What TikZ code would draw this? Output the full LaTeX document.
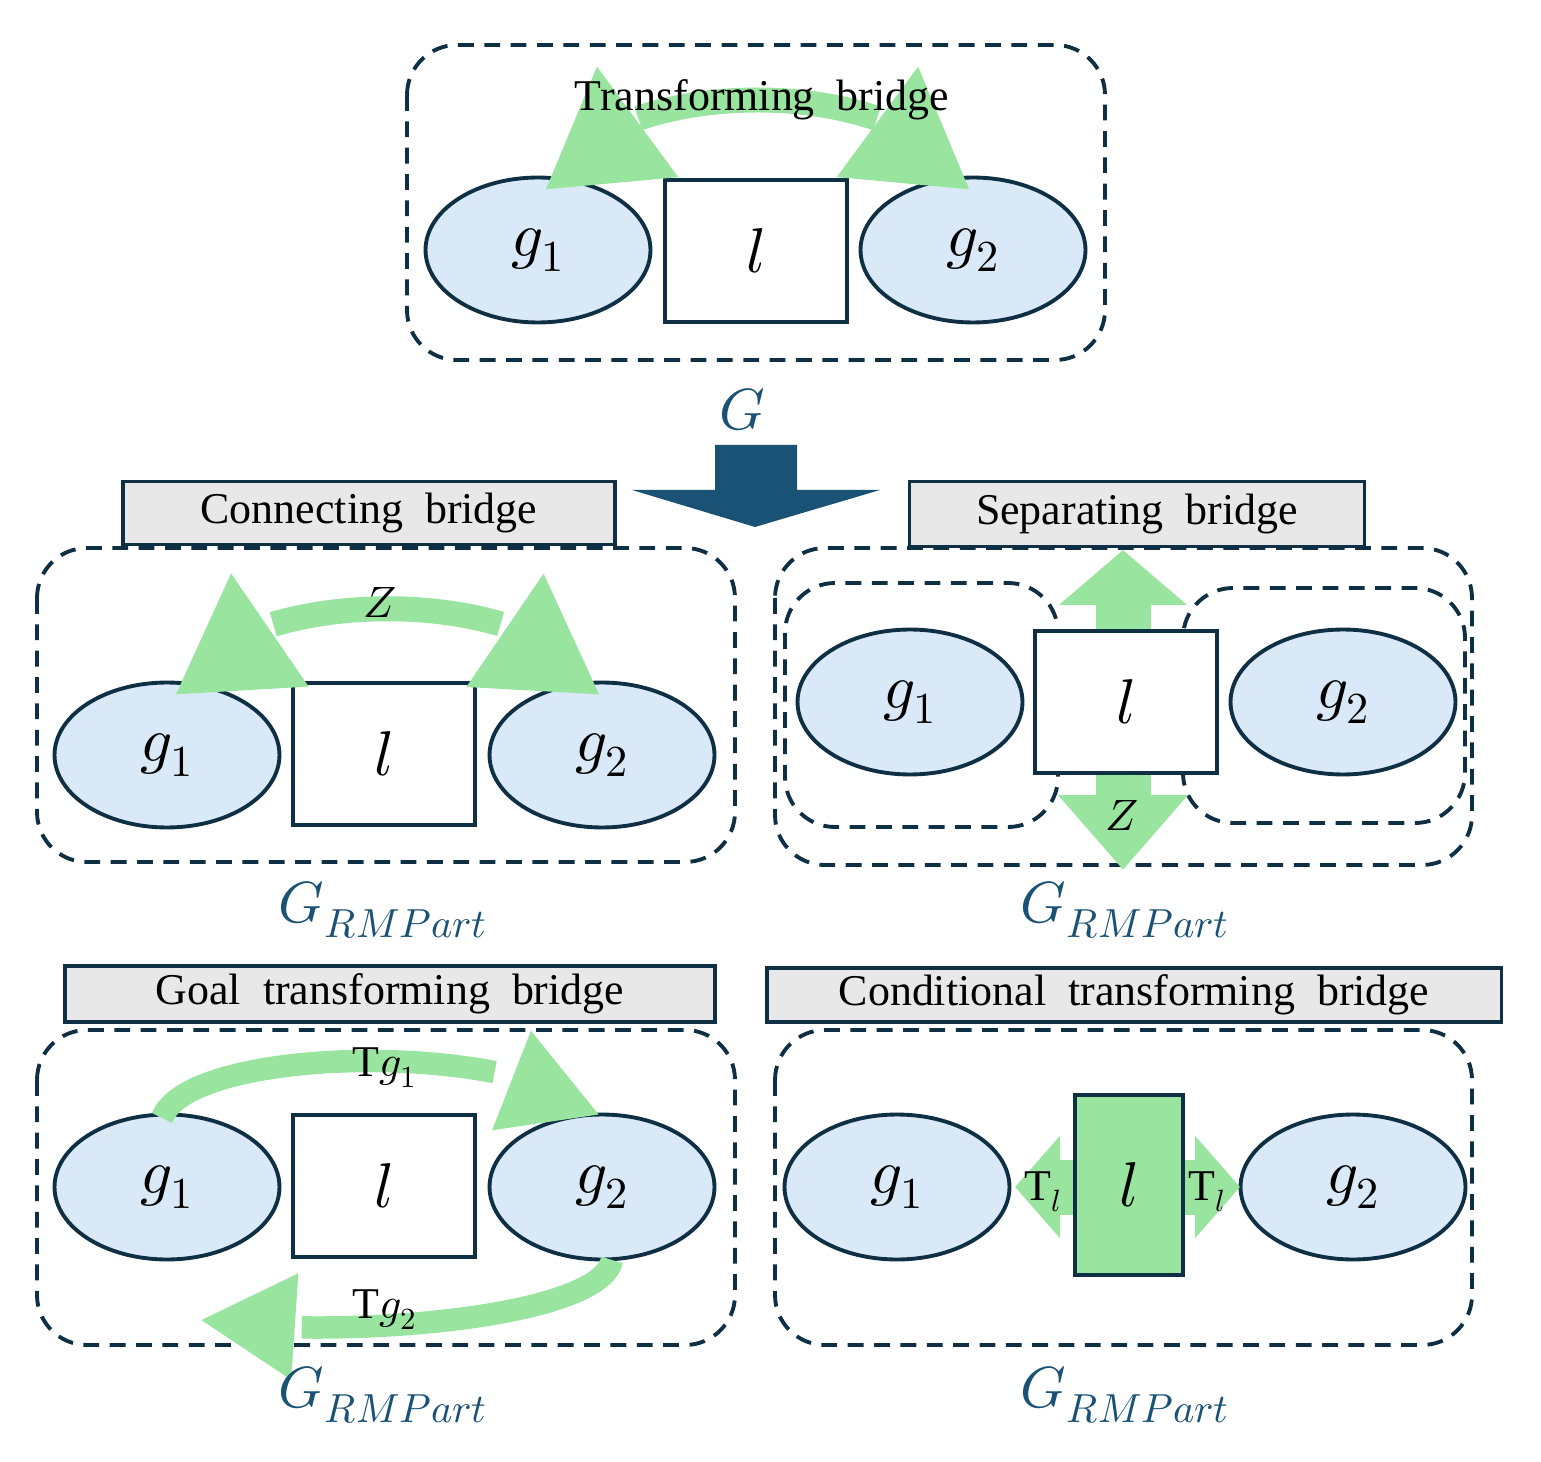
\documentclass[tikz,border=0pt]{standalone}
\usepackage{fontspec}
\usepackage{unicode-math}
\setmainfont{Liberation Serif}
\usetikzlibrary{arrows.meta,shapes.geometric,bending}
\definecolor{dk}{HTML}{0E2F44}
\definecolor{gblue}{HTML}{1A5276}
\definecolor{lb}{HTML}{DAE9F7}
\definecolor{gr}{HTML}{99E59F}
\definecolor{lg}{HTML}{E8E8E8}
\begin{document}
\begin{tikzpicture}[x=0.02cm,y=-0.02cm,
 panel/.style={draw=dk,line width=2.2pt,dash pattern=on 9pt off 6pt,rounded corners=1cm},
 goal/.style={draw=dk,line width=2.2pt,fill=lb,ellipse,minimum width=4.5cm,minimum height=2.9cm,inner sep=0pt},
 lbox/.style={draw=dk,line width=2.2pt,fill=white,minimum width=3.65cm,minimum height=2.85cm,inner sep=0pt},
 title/.style={draw=dk,line width=2.2pt,fill=lg,font=\fontsize{25}{28}\selectfont,inner sep=0pt},
 big/.style={font=\fontsize{36}{40}\selectfont},
 rm/.style={text=gblue,font=\fontsize{33}{36}\selectfont},
 garrow/.style={draw=gr,line width=0.45cm,-{Triangle[flex,width=2cm,length=1.9cm]}},
 garrowd/.style={draw=gr,line width=0.5cm,{Triangle[flex,width=2.6cm,length=2.3cm]}-{Triangle[flex,width=2.6cm,length=2.3cm]}},
 lab/.style={font=\fontsize{25}{28}\selectfont}]
\useasboundingbox (0,0) rectangle (1541,1462);
% top
\draw[panel] (407,45) rectangle (1105,360);
\node[goal,big] (tg1) at (538,250) {$g_1$};
\node[lbox,big] (tl) at (756,251) {$l$};
\node[goal,big] (tg2) at (973,250) {$g_2$};
\draw[garrowd] (545,190) .. controls (600,70) and (915,70) .. (970,190);
\node[lab] (tt) at (762,100) {Transforming\ \ bridge};
\node[rm] (G) at (742,410) {$G$};
% big arrow
\fill[gblue] (715,445) -- (797,445) -- (797,490) -- (880,490) -- (755,527) -- (632,490) -- (715,490) -- cycle;
% connecting
\node[title,minimum width=9.84cm,minimum height=1.26cm] (ct) at (369,513) {Connecting\ \ bridge};
\draw[panel] (37,548) rectangle (735,862);
\node[goal,big] (cg1) at (167,755) {$g_1$};
\node[lbox,big] (cl) at (384,754) {$l$};
\node[goal,big] (cg2) at (602,755) {$g_2$};
\draw[garrowd] (175,695) .. controls (225,580) and (550,580) .. (600,695);
\node[lab] (cz) at (380,603) {$Z$};
\node[rm] (cG) at (383,910) {$G_{RMPart}$};
% separating
\node[title,minimum width=9.1cm,minimum height=1.3cm] (st) at (1137,514) {Separating\ \ bridge};
\draw[panel] (775,548) rectangle (1472,865);
\draw[panel] (785,583) rectangle (1058,827);
\draw[panel] (1183,588) rectangle (1465,823);
\draw[draw=gr,line width=1.1cm,{Triangle[width=2.5cm,length=1.1cm]}-{Triangle[width=2.5cm,length=1.5cm]}] (1123,550) -- (1123,870);
\node[goal,big] (sg1) at (910,702) {$g_1$};
\node[lbox,big] (sl) at (1126,702) {$l$};
\node[goal,big] (sg2) at (1343,702) {$g_2$};
\node[lab] (sz) at (1122,815) {$Z$};
\node[rm] (sG) at (1125,910) {$G_{RMPart}$};
% goal transforming
\node[title,minimum width=13cm,minimum height=1.12cm] (gt) at (390,994) {Goal\ \ transforming\ \ bridge};
\draw[panel] (37,1030) rectangle (735,1345);
\node[goal,big] (gg1) at (167,1187) {$g_1$};
\node[lbox,big] (gl) at (384,1186) {$l$};
\node[goal,big] (gg2) at (602,1187) {$g_2$};
\draw[garrow] (162,1118) .. controls (190,1045) and (520,1040) .. (600,1115);
\draw[garrow] (612,1260) .. controls (600,1320) and (330,1340) .. (200,1320);
\node[lab] (gt1) at (385,1068) {T$g_1$};
\node[lab] (gt2) at (385,1310) {T$g_2$};
\node[rm] (gG) at (383,1395) {$G_{RMPart}$};
% conditional
\node[title,minimum width=14.7cm,minimum height=1.08cm] (kt) at (1134,995) {Conditional\ \ transforming\ \ bridge};
\draw[panel] (775,1030) rectangle (1472,1345);
\node[goal,big] (kg1) at (897,1187) {$g_1$};
\node[goal,big] (kg2) at (1353,1187) {$g_2$};
\draw[draw=gr,line width=1.1cm,{Triangle[width=2cm,length=0.9cm]}-{Triangle[width=2cm,length=0.9cm]}] (1015,1187) -- (1240,1187);
\node[lbox,big,fill=gr,minimum width=2.16cm,minimum height=3.6cm] (kl) at (1129,1185) {$l$};
\node[lab] (ktl1) at (1043,1192) {T$_l$};
\node[lab] (ktl2) at (1207,1192) {T$_l$};
\node[rm] (kG) at (1125,1395) {$G_{RMPart}$};
\end{tikzpicture}
\end{document}
